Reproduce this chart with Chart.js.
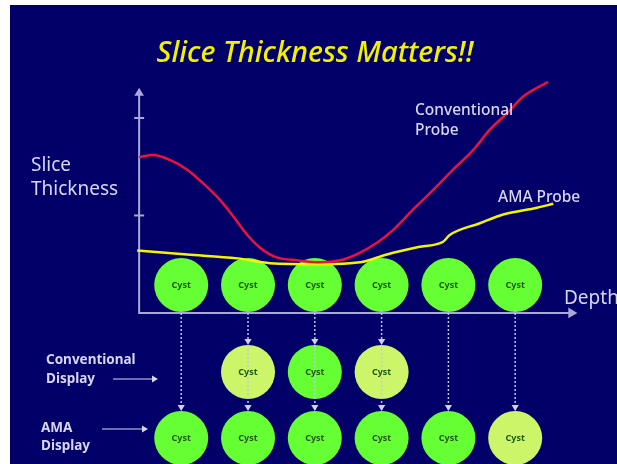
<!DOCTYPE html>
<html>
<head>
<meta charset="utf-8">
<script src="https://cdn.jsdelivr.net/npm/chart.js@4/dist/chart.umd.min.js"></script>
<style>
  html, body { margin: 0; padding: 0; background: #ffffff; overflow: hidden; }
  #wrap { width: 617px; height: 464px; position: relative; }
</style>
</head>
<body>
<div id="wrap"><canvas id="c" width="617" height="464"></canvas></div>
<script>
// Slice thickness versus depth: conventional probe
const conventionalDepth = [0.37, 0.58, 0.83, 1.09, 1.39, 1.58, 1.78, 1.99, 2.18, 2.43, 2.73, 3.08, 3.38, 3.68, 3.93, 4.17, 4.47, 4.77, 5.07, 5.37, 5.62, 5.88, 6.12, 6.49];
const conventionalThickness = [1.60, 1.62, 1.57, 1.47, 1.29, 1.16, 0.99, 0.80, 0.67, 0.57, 0.54, 0.52, 0.54, 0.62, 0.72, 0.85, 1.06, 1.26, 1.47, 1.67, 1.88, 2.05, 2.22, 2.37];

// Slice thickness versus depth: AMA probe
const amaDepth = [0.34, 1.09, 1.84, 2.33, 3.08, 3.68, 4.08, 4.58, 4.92, 5.02, 5.47, 5.82, 6.33, 6.57];
const amaThickness = [0.64, 0.60, 0.56, 0.51, 0.50, 0.52, 0.60, 0.68, 0.73, 0.80, 0.92, 1.01, 1.08, 1.12];

// Thickness axis tick values
const thicknessTicks = [1, 2];

// Cysts placed along the depth axis
const cystDepths = [1, 2, 3, 4, 5, 6];
// Which cysts each display shows, and whether each appears sharp or blurred
const conventionalDisplayDepths = [2, 3, 4];
const conventionalDisplayLook = ['blurred', 'sharp', 'blurred'];
const amaDisplayDepths = [1, 2, 3, 4, 5, 6];
const amaDisplayLook = ['sharp', 'sharp', 'sharp', 'sharp', 'sharp', 'blurred'];

// Vertical levels of the three cyst rows (thickness-axis units)
const ROW_SCAN = 0.287, ROW_CONV = -0.605, ROW_AMA = -1.282;
const CYST_R = 27;
const SHARP = '#66ff33', BLURRED = '#ccf56a';
const NAVY = '#020068', PALE = '#d6d6f4', AXIS = '#a9a9d6';

const toPts = (xs, ys) => xs.map((x, i) => ({ x, y: ys[i] }));
const lookColor = l => l === 'sharp' ? SHARP : BLURRED;

// dotted guides from the depth axis down to the AMA row
const guideSets = cystDepths.map(d => ({
  type: 'line',
  data: [{ x: d, y: 0 }, { x: d, y: ROW_AMA + 0.287 }],
  borderColor: '#c4c4ee',
  borderWidth: 1.5,
  borderDash: [2, 2],
  pointRadius: 0,
  clip: false,
  order: 1
}));

const cystRow = (depths, level, colors) => ({
  type: 'line',
  showLine: false,
  data: depths.map(d => ({ x: d, y: level })),
  pointRadius: CYST_R,
  pointHoverRadius: CYST_R,
  pointBackgroundColor: colors,
  pointBorderWidth: 0,
  clip: false,
  order: 2,
  cyst: true
});

function arrowHead(ctx, x, y, dir, size, color) {
  ctx.save();
  ctx.fillStyle = color;
  ctx.beginPath();
  if (dir === 'down') { ctx.moveTo(x, y); ctx.lineTo(x - size * 0.6, y - size); ctx.lineTo(x + size * 0.6, y - size); }
  if (dir === 'up') { ctx.moveTo(x, y); ctx.lineTo(x - size * 0.6, y + size); ctx.lineTo(x + size * 0.6, y + size); }
  if (dir === 'right') { ctx.moveTo(x, y); ctx.lineTo(x - size, y - size * 0.6); ctx.lineTo(x - size, y + size * 0.6); }
  ctx.closePath();
  ctx.fill();
  ctx.restore();
}

function text(ctx, s, x, y, font, color, align) {
  ctx.font = font;
  ctx.fillStyle = color;
  ctx.textAlign = align || 'left';
  ctx.textBaseline = 'alphabetic';
  ctx.fillText(s, x, y);
}

const slidePlugin = {
  id: 'slide',
  beforeDraw(chart) {
    const ctx = chart.ctx;
    ctx.save();
    ctx.fillStyle = '#ffffff';
    ctx.fillRect(0, 0, chart.width, chart.height);
    ctx.fillStyle = NAVY;
    ctx.fillRect(10, 5, chart.width - 10, chart.height - 5);
    ctx.restore();
  },
  beforeDatasetsDraw(chart) {
    const ctx = chart.ctx, xs = chart.scales.x, ys = chart.scales.y;
    const x0 = xs.getPixelForValue(0.37), y0 = ys.getPixelForValue(0);
    const xEnd = xs.getPixelForValue(6.93), yTop = ys.getPixelForValue(2.31);
    ctx.save();
    ctx.strokeStyle = AXIS;
    ctx.lineWidth = 2;
    ctx.beginPath();
    ctx.moveTo(x0, yTop + 6); ctx.lineTo(x0, y0); ctx.lineTo(xEnd - 6, y0);
    ctx.stroke();
    thicknessTicks.forEach(t => {
      const py = ys.getPixelForValue(t);
      ctx.beginPath(); ctx.moveTo(x0 - 5, py); ctx.lineTo(x0 + 5, py); ctx.stroke();
    });
    ctx.restore();
    arrowHead(ctx, x0, yTop, 'up', 8, AXIS);
    arrowHead(ctx, xEnd, y0, 'right', 9, AXIS);
  },
  afterDatasetsDraw(chart) {
    const ctx = chart.ctx, xs = chart.scales.x, ys = chart.scales.y;
    ctx.save();
    // cyst captions
    chart.data.datasets.forEach((ds, i) => {
      if (!ds.cyst) return;
      chart.getDatasetMeta(i).data.forEach(el => {
        text(ctx, 'Cyst', el.x, el.y + 3, 'bold 9px "Noto Sans"', '#1f5a10', 'center');
      });
    });
    // arrowheads on the dotted guides
    const convTop = ys.getPixelForValue(ROW_CONV) - CYST_R;
    const amaTop = ys.getPixelForValue(ROW_AMA) - CYST_R;
    cystDepths.forEach(d => arrowHead(ctx, xs.getPixelForValue(d), amaTop, 'down', 6, '#d0d0f4'));
    conventionalDisplayDepths.forEach(d => arrowHead(ctx, xs.getPixelForValue(d), convTop, 'down', 6, '#d0d0f4'));
    ctx.restore();
  },
  afterDraw(chart) {
    const ctx = chart.ctx;
    ctx.save();
    text(ctx, 'Slice Thickness Matters!!', 315, 62, 'italic 500 29px "Noto Sans"', '#f2f200', 'center');
    text(ctx, 'Slice', 31, 171, '19px "Noto Sans"', PALE);
    text(ctx, 'Thickness', 31, 195, '19px "Noto Sans"', PALE);
    text(ctx, 'Conventional', 415, 115, '500 15.5px "Noto Sans"', PALE);
    text(ctx, 'Probe', 415, 135, '500 15.5px "Noto Sans"', PALE);
    text(ctx, 'AMA Probe', 498, 202, '500 15.5px "Noto Sans"', PALE);
    text(ctx, 'Depth', 564, 304, '19px "Noto Sans"', PALE);
    text(ctx, 'Conventional', 46, 364, 'bold 13.5px "Noto Sans"', PALE);
    text(ctx, 'Display', 46, 383, 'bold 13.5px "Noto Sans"', PALE);
    text(ctx, 'AMA', 41, 432, 'bold 13.5px "Noto Sans"', PALE);
    text(ctx, 'Display', 41, 450, 'bold 13.5px "Noto Sans"', PALE);
    // pointers to the display rows
    ctx.strokeStyle = PALE; ctx.lineWidth = 1.2;
    ctx.beginPath(); ctx.moveTo(113, 379); ctx.lineTo(152, 379); ctx.stroke();
    arrowHead(ctx, 158, 379, 'right', 6, PALE);
    ctx.beginPath(); ctx.moveTo(102, 429); ctx.lineTo(142, 429); ctx.stroke();
    arrowHead(ctx, 148, 429, 'right', 6, PALE);
    ctx.restore();
  }
};

new Chart(document.getElementById('c'), {
  type: 'line',
  data: {
    datasets: [
      {
        label: 'Conventional Probe',
        data: toPts(conventionalDepth, conventionalThickness),
        borderColor: '#f0103c', borderWidth: 2.5, pointRadius: 0,
        tension: 0.4, cubicInterpolationMode: 'monotone', clip: false, order: 0
      },
      {
        label: 'AMA Probe',
        data: toPts(amaDepth, amaThickness),
        borderColor: '#f4f400', borderWidth: 2.5, pointRadius: 0,
        tension: 0.4, cubicInterpolationMode: 'monotone', clip: false, order: 0
      },
      ...guideSets,
      cystRow(cystDepths, ROW_SCAN, cystDepths.map(() => SHARP)),
      cystRow(conventionalDisplayDepths, ROW_CONV, conventionalDisplayLook.map(lookColor)),
      cystRow(amaDisplayDepths, ROW_AMA, amaDisplayLook.map(lookColor))
    ]
  },
  options: {
    responsive: false,
    animation: false,
    events: [],
    layout: { padding: 0, autoPadding: false },
    plugins: { legend: { display: false }, tooltip: { enabled: false }, title: { display: false } },
    scales: {
      x: { type: 'linear', min: -1.713, max: 7.524, display: false },
      y: { type: 'linear', min: -1.549, max: 3.21, display: false }
    }
  },
  plugins: [slidePlugin]
});
</script>
</body>
</html>
